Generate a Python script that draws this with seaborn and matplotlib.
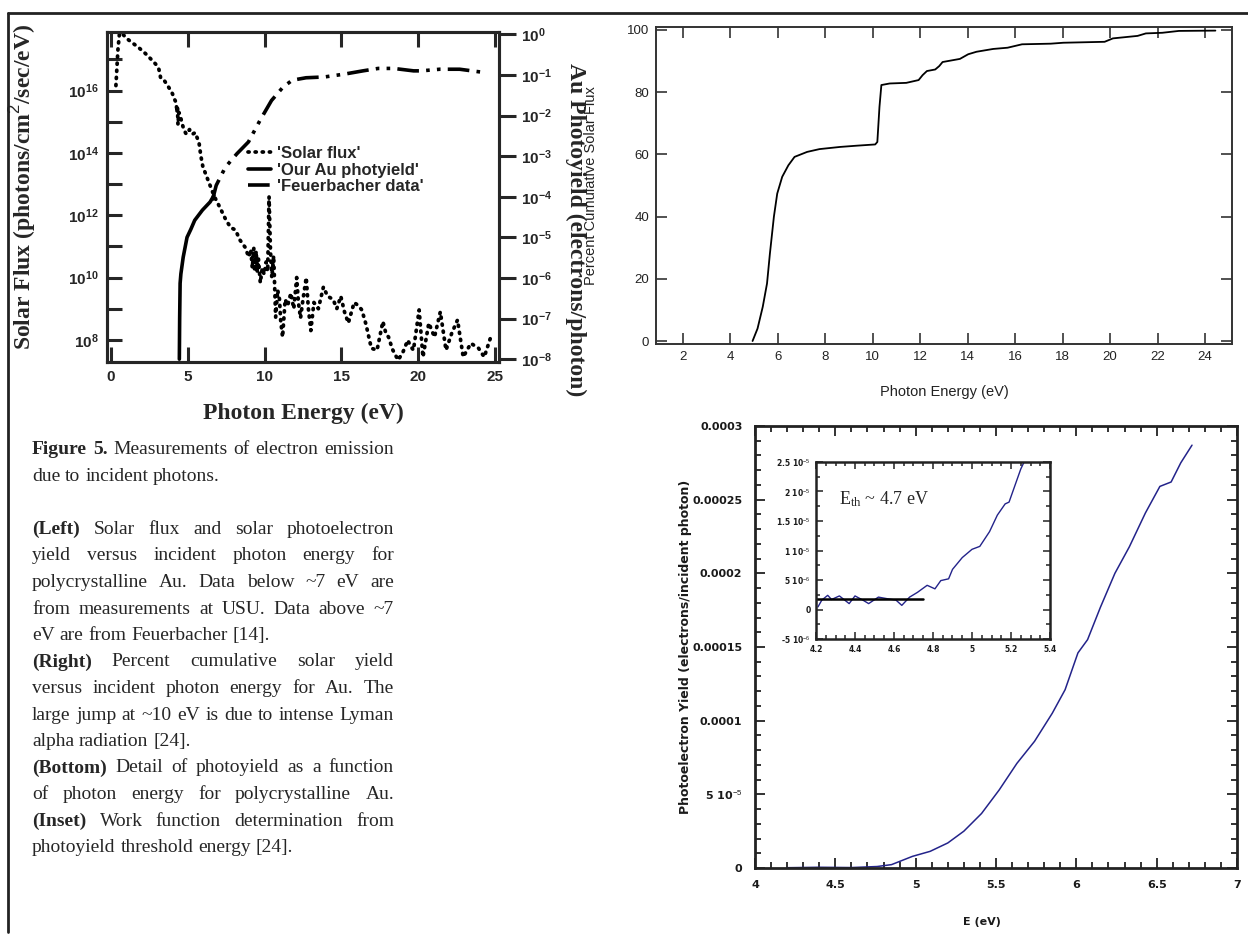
import matplotlib
matplotlib.use("Agg")
import matplotlib.pyplot as plt
import numpy as np
import pandas as pd
import seaborn as sns
from matplotlib.lines import Line2D
from matplotlib.ticker import MultipleLocator, NullLocator

# ---- left panel: solar flux (log10 photons/cm2/sec/eV) ----
solar_e = [0.32, 0.45, 0.55, 0.70, 1.0, 1.37, 1.8, 2.24, 2.74, 3.0, 3.12, 3.24, 3.5, 3.74,
           4.0, 4.11, 4.25, 4.29, 4.33, 4.36, 4.42, 4.49, 4.6, 4.74, 4.9, 5.11, 5.3, 5.48,
           5.73, 5.85, 5.98, 6.36, 6.73, 7.1, 7.48, 7.8, 8.1, 8.4, 8.72, 8.97, 9.1, 9.2,
           9.3, 9.35, 9.45, 9.52, 9.6, 9.72, 9.85, 9.97, 10.1, 10.2, 10.29, 10.38, 10.47,
           10.59, 10.72, 10.85, 10.97, 11.05, 11.17, 11.34, 11.5, 11.71, 11.9, 12.09, 12.2,
           12.34, 12.5, 12.71, 12.85, 13.01, 13.21, 13.5, 13.83, 14.1, 14.46, 14.7, 14.96,
           15.2, 15.45, 15.83, 16.1, 16.33, 16.6, 16.95, 17.32, 17.7, 17.9, 18.07, 18.32,
           18.69, 19.0, 19.32, 19.5, 19.69, 20.06, 20.31, 20.69, 21.06, 21.44, 21.81, 22.18,
           22.56, 22.93, 23.43, 23.93, 24.3, 24.8]
solar_log = [16.16, 17.3, 17.83, 17.85, 17.68, 17.54, 17.38, 17.19, 16.94, 16.8, 16.68, 16.39,
             16.3, 16.12, 15.9, 15.75, 15.6, 15.3, 15.5, 14.9, 15.3, 15.23, 15.0, 14.75, 14.6,
             14.75, 14.6, 14.65, 14.33, 13.9, 13.56, 13.07, 12.6, 12.24, 11.85, 11.6, 11.53,
             11.2, 10.98, 10.66, 10.9, 10.3, 10.95, 10.2, 10.85, 10.2, 10.6, 9.83, 10.3, 10.1,
             10.5, 10.2, 12.6, 10.9, 10.0, 10.7, 8.73, 9.6, 9.3, 8.6, 8.09, 9.3, 9.1, 9.5,
             9.0, 10.0, 9.2, 8.7, 9.3, 10.0, 9.0, 8.3, 9.2, 9.0, 9.7, 9.4, 9.3, 9.0, 9.4, 8.9,
             8.54, 9.2, 9.1, 8.96, 8.5, 7.73, 7.67, 8.59, 8.2, 8.09, 7.7, 7.35, 7.6, 7.99, 7.8,
             7.67, 8.96, 7.45, 8.54, 8.09, 8.9, 7.67, 8.21, 8.64, 7.45, 7.89, 7.73, 7.45, 8.21]

# Au photoyield (log10 electrons/photon)
au_e = [4.45, 4.47, 4.5, 4.55, 4.7, 4.95, 5.2, 5.45, 5.95, 6.45, 6.7]
au_log = [-8.0, -7.0, -6.13, -5.9, -5.49, -5.0, -4.8, -4.58, -4.33, -4.13, -3.97]

feuer_e = [6.6, 6.85, 7.45, 8.2, 8.95, 9.7, 10.45, 11.2, 11.8, 12.7, 13.9, 15.2, 16.4,
           17.4, 18.4, 19.7, 20.2, 21.4, 22.7, 24.3]
feuer_log = [-4.09, -3.72, -3.27, -2.94, -2.65, -2.12, -1.63, -1.3, -1.13, -1.07, -1.05,
             -0.98, -0.9, -0.84, -0.84, -0.9, -0.9, -0.86, -0.86, -0.94]

# ---- right panel: percent cumulative solar flux ----
cum_e = [4.93, 5.14, 5.36, 5.54, 5.66, 5.83, 5.97, 6.18, 6.44, 6.7, 7.23, 7.75, 8.62, 9.32,
         10.1, 10.19, 10.28, 10.36, 10.71, 11.41, 11.93, 12.1, 12.28, 12.63, 12.8, 12.94,
         13.67, 14.02, 14.37, 15.07, 15.68, 16.29, 17.5, 18.03, 19.77, 20.12, 21.16, 21.51,
         22.2, 22.9, 24.44]
cum_pct = [0, 4, 11, 18.5, 28, 40, 47.4, 52.8, 56.5, 59.2, 60.8, 61.7, 62.4, 62.8, 63.2, 64,
           75.3, 82.3, 82.8, 83.0, 83.9, 85.5, 86.8, 87.3, 88.4, 89.7, 90.7, 92.2, 93.0, 93.9,
           94.3, 95.4, 95.6, 95.9, 96.2, 97.3, 98.1, 98.9, 99.1, 99.7, 99.8]

# ---- bottom panel: photoyield detail ----
py_e = [4.2, 4.4, 4.6, 4.76, 4.85, 4.98, 5.09, 5.2, 5.3, 5.41, 5.52, 5.63, 5.74, 5.85, 5.93,
        6.01, 6.07, 6.15, 6.24, 6.33, 6.43, 6.52, 6.59, 6.65, 6.72]
py_val = [0.2e-6, 0.5e-6, 0.3e-6, 1e-6, 2.3e-6, 7.9e-6, 11.3e-6, 17e-6, 25e-6, 37e-6, 53e-6,
          71e-6, 86e-6, 105e-6, 121e-6, 146e-6, 155e-6, 177e-6, 200e-6, 218e-6, 241e-6,
          259e-6, 262e-6, 275e-6, 287e-6]
py_yticks = [0, 5e-5, 1e-4, 1.5e-4, 2e-4, 2.5e-4, 3e-4]
py_ylabels = ["0", "5 10$^{-5}$", "0.0001", "0.00015", "0.0002", "0.00025", "0.0003"]
py_xticks = [4, 4.5, 5, 5.5, 6, 6.5, 7]
py_xlabels = ["4", "4.5", "5", "5.5", "6", "6.5", "7"]

# inset: threshold region
ins_e = [4.21, 4.23, 4.26, 4.28, 4.32, 4.37, 4.4, 4.44, 4.47, 4.52, 4.57, 4.61, 4.64, 4.68,
         4.72, 4.77, 4.81, 4.84, 4.88, 4.9, 4.95, 5.0, 5.04, 5.09, 5.13, 5.17, 5.19, 5.22,
         5.25, 5.27]
ins_val = [0.44e-6, 1.6e-6, 2.4e-6, 1.7e-6, 2.3e-6, 1.0e-6, 2.3e-6, 1.6e-6, 1.0e-6, 2.1e-6,
           1.8e-6, 1.6e-6, 0.7e-6, 2.1e-6, 2.9e-6, 4.1e-6, 3.5e-6, 4.9e-6, 5.2e-6, 6.8e-6,
           8.8e-6, 10.2e-6, 10.7e-6, 13.2e-6, 16e-6, 17.9e-6, 18.2e-6, 21e-6, 23.8e-6, 25.2e-6]
fit_e = [4.2, 4.75]
fit_val = [1.8e-6, 1.8e-6]
ins_yticks = [-5e-6, 0, 5e-6, 1e-5, 1.5e-5, 2e-5, 2.5e-5]
ins_ylabels = ["-5 10$^{-6}$", "0", "5 10$^{-6}$", "1 10$^{-5}$", "1.5 10$^{-5}$",
               "2 10$^{-5}$", "2.5 10$^{-5}$"]
ins_xticks = [4.2, 4.4, 4.6, 4.8, 5.0, 5.2, 5.4]
ins_xlabels = ["4.2", "4.4", "4.6", "4.8", "5", "5.2", "5.4"]

caption_lines = [
    ("Figure 5.", "Measurements of electron emission", True),
    ("", "due to incident photons.", False),
    None,
    ("(Left)", "Solar flux and solar photoelectron", True),
    ("", "yield versus incident photon energy for", True),
    ("", "polycrystalline Au. Data below ~7 eV are", True),
    ("", "from measurements at USU.  Data above ~7", True),
    ("", "eV are from Feuerbacher [14].", False),
    ("(Right)", "Percent cumulative solar yield", True),
    ("", "versus incident photon energy for Au.  The", True),
    ("", "large jump at ~10 eV is due to intense Lyman", True),
    ("", "alpha radiation [24].", False),
    ("(Bottom)", "Detail of photoyield as a function", True),
    ("", "of photon energy for polycrystalline Au.", True),
    ("(Inset)", "Work function determination from", True),
    ("", "photoyield threshold energy [24].", False),
]

sns.set_theme(style="ticks")
plt.rcParams["font.family"] = ["Liberation Sans", "DejaVu Sans"]
plt.rcParams["mathtext.fontset"] = "custom"
plt.rcParams["mathtext.rm"] = "Liberation Sans"
plt.rcParams["mathtext.bf"] = "Liberation Sans:bold"

W, H = 1248, 942
fig = plt.figure(figsize=(W / 100, H / 100), dpi=100)


def box(l, t, r, b):
    return [l / W, 1 - b / H, (r - l) / W, (b - t) / H]


# page frame
fig.add_artist(Line2D([8 / W, 1], [1 - 13 / H] * 2, transform=fig.transFigure, color="#222", lw=2))
fig.add_artist(Line2D([8 / W] * 2, [1 - 13 / H, 1 - 932 / H], transform=fig.transFigure, color="#222", lw=2))

serif_bold = dict(family="Liberation Serif", fontweight="bold", fontsize=17)

# ---------------- left panel ----------------
ax = fig.add_axes(box(107, 32, 499, 362))
ax.set_yscale("log")
solar = pd.DataFrame({"E": solar_e, "flux": 10.0 ** np.array(solar_log)})
sns.lineplot(data=solar, x="E", y="flux", ax=ax, color="black", lw=2.7,
             linestyle=(0, (0.3, 1.6)), dash_capstyle="round", sort=False,
             label="'Solar flux'", legend=False)
ax.set_xlim(-0.26, 25.26)
ax.set_ylim(10 ** 7.29, 10 ** 17.88)
ax.set_xticks([0, 5, 10, 15, 20, 25], labels=["0", "5", "10", "15", "20", "25"],
              fontweight="bold", fontsize=11)
dec = list(range(8, 18))
ax.set_yticks([10.0 ** d for d in dec],
              labels=[r"$\mathbf{10^{%d}}$" % d if d % 2 == 0 else "" for d in dec], fontsize=11)
ax.yaxis.set_minor_locator(NullLocator())
ax.tick_params(axis="both", direction="in", length=11, width=2.2, top=True, right=False, pad=6)
for s in ax.spines.values():
    s.set_linewidth(2.2)
    s.set_color("black")
ax.set_xlabel("Photon Energy (eV)", **serif_bold)
ax.xaxis.set_label_coords(0.50, -0.125)
ax.set_ylabel("Solar Flux (photons/cm$^2$/sec/eV)", **serif_bold)
ax.yaxis.set_label_coords(-0.175, 0.53)

ax2 = ax.twinx()
ax2.set_yscale("log")
au = pd.DataFrame({"E": au_e, "y": 10.0 ** np.array(au_log)})
fe = pd.DataFrame({"E": feuer_e, "y": 10.0 ** np.array(feuer_log)})
sns.lineplot(data=au, x="E", y="y", ax=ax2, color="black", lw=2.6, sort=False,
             label="'Our Au photyield'", legend=False)
sns.lineplot(data=fe, x="E", y="y", ax=ax2, color="black", lw=2.6, sort=False,
             linestyle=(0, (6, 2, 1, 2, 1, 2)), label="'Feuerbacher data'", legend=False)
ax2.set_ylim(10 ** -8.07, 10 ** 0.057)
rdec = list(range(-8, 1))
ax2.set_yticks([10.0 ** d for d in rdec], labels=[r"$\mathbf{10^{%d}}$" % d for d in rdec], fontsize=11)
ax2.yaxis.set_minor_locator(NullLocator())
ax2.tick_params(axis="y", direction="out", length=12, width=2.2, pad=4)
ax2.set_ylabel("Au Photoyield (electrons/photon)", rotation=270, va="center", **serif_bold)
ax2.yaxis.set_label_coords(1.195, 0.40)
for s in ax2.spines.values():
    s.set_linewidth(2.2)

handles = ax.get_lines() + ax2.get_lines()
ax2.legend(handles=handles, labels=[h.get_label() for h in handles], loc="upper left",
           bbox_to_anchor=(0.338, 0.68), frameon=False, handlelength=1.4, handletextpad=0.35,
           labelspacing=0.1, borderpad=0, prop=dict(weight="bold", size=12))

# ---------------- right panel ----------------
axr = fig.add_axes(box(656, 27, 1232, 344))
cum = pd.DataFrame({"E": cum_e, "pct": cum_pct})
sns.lineplot(data=cum, x="E", y="pct", ax=axr, color="black", lw=1.3, sort=False)
axr.set_xlim(0.86, 25.14)
axr.set_ylim(-0.96, 100.96)
axr.set_xticks(list(range(2, 25, 2)))
axr.set_yticks(list(range(0, 101, 20)))
axr.tick_params(axis="both", direction="in", length=8, width=1.1, top=True, right=True,
                labelsize=9.5, pad=5, colors="#222")
for s in axr.spines.values():
    s.set_linewidth(1.4)
    s.set_color("#333")
axr.set_xlabel("Photon Energy (eV)", fontsize=10.5, color="#222")
axr.xaxis.set_label_coords(0.50, -0.13)
axr.set_ylabel("Percent Cumulative Solar Flux", fontsize=10.5, color="#222")
axr.yaxis.set_label_coords(-0.10, 0.50)

# ---------------- bottom panel ----------------
small = dict(family="DejaVu Sans", fontweight="bold", fontsize=8, color="#1a1a1a")
axb = fig.add_axes(box(755, 426, 1237, 868))
py = pd.DataFrame({"E": py_e, "Y": py_val})
sns.lineplot(data=py, x="E", y="Y", ax=axb, color="#23238a", lw=1.1, sort=False)
axb.set_xlim(4, 7)
axb.set_ylim(0, 0.0003)
axb.set_xticks(py_xticks, labels=py_xlabels, **small)
axb.set_yticks(py_yticks, labels=py_ylabels, **small)
axb.xaxis.set_minor_locator(MultipleLocator(0.1))
axb.yaxis.set_minor_locator(MultipleLocator(1e-5))
axb.tick_params(which="both", direction="in", top=True, right=True, width=1.3, color="#222")
axb.tick_params(which="major", length=7, pad=9)
axb.tick_params(which="minor", length=4)
for s in axb.spines.values():
    s.set_linewidth(2.0)
    s.set_color("#222")
axb.set_xlabel("E (eV)", **small)
axb.xaxis.set_label_coords(0.47, -0.11)
axb.set_ylabel("Photoelectron Yield (electrons/incident photon)",
               family="DejaVu Sans", fontweight="bold", fontsize=9, color="#1a1a1a")
axb.yaxis.set_label_coords(-0.13, 0.5)

# inset
tiny = dict(family="DejaVu Sans", fontweight="bold", fontsize=5.5, color="#1a1a1a")
axi = fig.add_axes(box(816, 462, 1050, 639))
ins = pd.DataFrame({"E": ins_e, "Y": ins_val})
sns.lineplot(data=ins, x="E", y="Y", ax=axi, color="#23238a", lw=1.0, sort=False)
fit = pd.DataFrame({"E": fit_e, "Y": fit_val})
sns.lineplot(data=fit, x="E", y="Y", ax=axi, color="black", lw=1.8, sort=False)
axi.set_xlim(4.2, 5.4)
axi.set_ylim(-5e-6, 2.5e-5)
axi.set_xticks(ins_xticks, labels=ins_xlabels, **tiny)
axi.set_yticks(ins_yticks, labels=ins_ylabels, **tiny)
axi.xaxis.set_minor_locator(MultipleLocator(0.05))
axi.yaxis.set_minor_locator(MultipleLocator(2.5e-6))
axi.tick_params(which="both", direction="in", top=True, right=True, width=1.1, color="#222")
axi.tick_params(which="major", length=5, pad=4)
axi.tick_params(which="minor", length=3)
for s in axi.spines.values():
    s.set_linewidth(1.8)
    s.set_color("#222")
axi.set_xlabel("")
axi.set_ylabel("")
axi.text(0.1, 0.79, r"E$\mathregular{_{th}}$ ~ 4.7 eV", transform=axi.transAxes,
         family="Liberation Serif", fontsize=13, va="center")

# ---------------- caption ----------------
CAP_L, CAP_R, CAP_SIZE = 32, 394, 14
renderer = fig.canvas.get_renderer()
y = 450
for line in caption_lines:
    if line is None:
        y += 26.5
        continue
    bold_part, rest, justify = line
    words = [(w, True) for w in bold_part.split()] + [(w, False) for w in rest.split()]
    arts = [fig.text(0, 1 - y / H, w, fontsize=CAP_SIZE, family="Liberation Serif",
                     fontweight="bold" if b else "normal", va="center", ha="left")
            for w, b in words]
    widths = [t.get_window_extent(renderer).width for t in arts]
    if justify and len(arts) > 1:
        gap = (CAP_R - CAP_L - sum(widths)) / (len(arts) - 1)
    else:
        gap = CAP_SIZE * 100 / 72 * 0.25
    x = CAP_L
    for t, w in zip(arts, widths):
        t.set_x(x / W)
        x += w + gap
    y += 26.5

fig.savefig("out.png", dpi=100, facecolor="white")
